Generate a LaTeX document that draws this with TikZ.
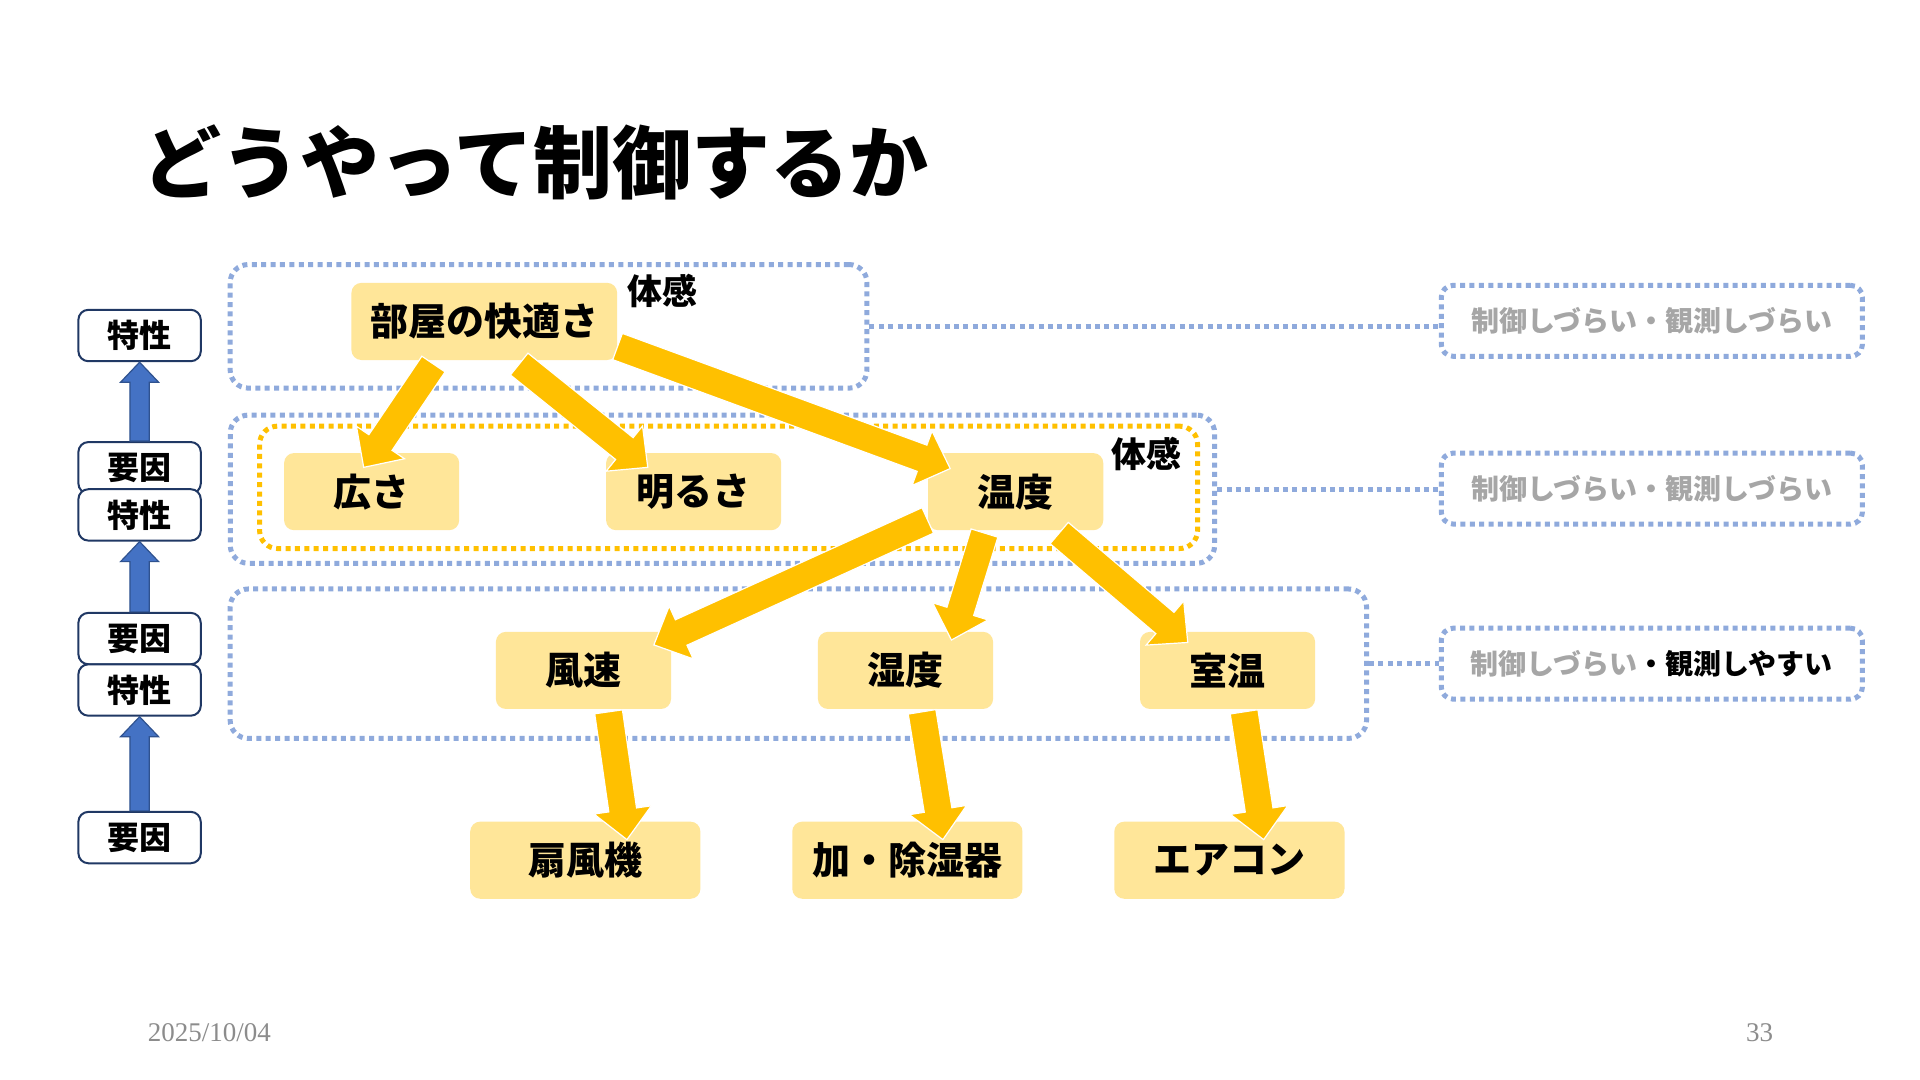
\documentclass[tikz,border=0pt]{standalone}
\usepackage{fontspec}
\setmainfont{Noto Sans CJK JP}
\newfontfamily\numfont{Liberation Serif}
\usetikzlibrary{calc}
\definecolor{nodefill}{HTML}{FFE699}
\definecolor{arrowyellow}{HTML}{FFC000}
\definecolor{dotblue}{HTML}{8FAADC}
\definecolor{dotorange}{HTML}{FFC000}
\definecolor{navy}{HTML}{203864}
\definecolor{arrowblue}{HTML}{4472C4}
\definecolor{arrowblueline}{HTML}{2F528F}
\definecolor{softgray}{HTML}{A6A6A6}
\definecolor{footgray}{HTML}{8C8C8C}
\newcommand\myblock[6]{%
  \path #2 coordinate (ba-s) #3 coordinate (ba-e);
  \path ($(ba-e)!#6!(ba-s)$) coordinate (ba-b);
  \filldraw[#1] ($(ba-s)!#4!90:(ba-e)$) -- ($(ba-b)!#4!90:(ba-e)$) -- ($(ba-b)!#5!90:(ba-e)$) -- (ba-e) -- ($(ba-b)!#5!-90:(ba-e)$) -- ($(ba-b)!#4!-90:(ba-e)$) -- ($(ba-s)!#4!-90:(ba-e)$) -- cycle;
}
\newcommand\yarrow[2]{\myblock{yarr}{#1}{#2}{7pt}{14.5pt}{15pt}}
\newcommand\barrow[2]{\myblock{barr}{#1}{#2}{4.8pt}{9.5pt}{10pt}}
\tikzset{
  yarr/.style={fill=arrowyellow, draw=white, line width=0.6pt, line join=miter},
  barr/.style={fill=arrowblue, draw=arrowblueline, line width=0.6pt, line join=miter},
  dotline/.style={line width=2.5pt, dash pattern=on 2.5pt off 2.2pt},
  grp/.style={draw=dotblue, dotline, rounded corners=9pt, inner sep=0pt},
  ygrp/.style={draw=dotorange, dotline, rounded corners=9pt, inner sep=0pt},
  item/.style={fill=nodefill, rounded corners=5pt, inner sep=0pt, minimum width=87.55pt, minimum height=38.57pt, font=\fontsize{19}{22}\selectfont\bfseries},
  bitem/.style={item, minimum width=115.1pt},
  lbox/.style={draw=navy, fill=white, line width=1pt, rounded corners=5pt, inner sep=0pt, minimum width=61.2pt, minimum height=25.7pt, font=\fontsize{16}{18}\selectfont\bfseries},
  rbox/.style={draw=dotblue, dotline, rounded corners=6pt, inner sep=0pt, minimum width=210.6pt, minimum height=35.5pt, font=\fontsize{14}{16}\selectfont\bfseries},
  tlabel/.style={inner sep=0pt, font=\fontsize{17.5}{20}\selectfont\bfseries},
  foot/.style={inner sep=0pt, text=footgray, font=\numfont\fontsize{13.5}{15}\selectfont},
}
\begin{document}
\begin{tikzpicture}[x=0.61224pt, y=-0.61224pt]
\useasboundingbox (0,0) rectangle (1568,882);
\fill[white] (0,0) rectangle (1568,882);
% title
\node[anchor=west, inner sep=0pt, font=\fontsize{39.5}{44}\selectfont\bfseries] (title) at (116,133) {どうやって制御するか};
% group boxes
\node[grp, minimum width=318.4pt, minimum height=61.8pt] (g1) at (448,266.5) {};
\node[grp, minimum width=492.2pt, minimum height=74.1pt] (g2) at (590,399.5) {};
\node[ygrp, minimum width=469pt, minimum height=61.2pt] (g2y) at (595,398) {};
\node[grp, minimum width=568.2pt, minimum height=74.7pt] (g3) at (652,542) {};
% right boxes
\node[rbox, text=softgray] (r1) at (1349,262) {制御しづらい・観測しづらい};
\node[rbox, text=softgray] (r2) at (1349,399) {制御しづらい・観測しづらい};
\node[rbox] (r3) at (1349,542) {\textcolor{softgray}{制御しづらい}・観測しやすい};
\draw[draw=dotblue, dotline] (g1.east) -- (g1.east -| r1.west);
\draw[draw=dotblue, dotline] (g2.east) -- (g2.east -| r2.west);
\draw[draw=dotblue, dotline] (g3.east) -- (g3.east -| r3.west);
% nodes
\node[item, minimum width=132.86pt] (room) at (395.5,262.5) {部屋の快適さ};
\node[item] (hiro) at (303.5,401.5) {広さ};
\node[item] (akaru) at (566.5,401.5) {明るさ};
\node[item] (ondo) at (829.5,401.5) {温度};
\node[item] (fuu) at (476.5,547.5) {風速};
\node[item] (shitsu) at (739.5,547.5) {湿度};
\node[item] (shitsuon) at (1002.5,547.5) {室温};
\node[bitem] (senpuki) at (478,702.5) {扇風機};
\node[bitem] (kajo) at (741,702.5) {加・除湿器};
\node[bitem] (aircon) at (1004,702.5) {エアコン};
% yellow arrows
\yarrow{($(room.south)+(-41.5,3)$)}{($(hiro.north)+(-6.5,12)$)}
\yarrow{($(room.south)+(28.5,3)$)}{($(akaru.north)+(-37.5,12)$)}
\yarrow{($(room.east)+(0,20.5)$)}{($(ondo.north)+(-53.5,13)$)}
\yarrow{($(ondo.west)+(0,23.5)$)}{($(fuu.north)+(57.5,11)$)}
\yarrow{($(ondo.south)+(-25.5,2)$)}{($(shitsu.north)+(37.5,7)$)}
\yarrow{($(ondo.south)+(35.5,2)$)}{($(shitsuon.north)+(-32.5,9)$)}
\yarrow{($(fuu.south)+(20.5,2)$)}{($(senpuki.north)+(34,15)$)}
\yarrow{($(shitsu.south)+(13.5,2)$)}{($(kajo.north)+(29,15)$)}
\yarrow{($(shitsuon.south)+(13.5,2)$)}{($(aircon.north)+(28,15)$)}
% labels
\node[tlabel] (tai1) at (541,238) {体感};
\node[tlabel] (tai2) at (936,371) {体感};
% left column
\node[lbox] (t1) at (114,274) {特性};
\node[lbox] (y1) at (114,382) {要因};
\node[lbox] (t2) at (114,420.5) {特性};
\node[lbox] (y2) at (114,521.5) {要因};
\node[lbox] (t3) at (114,563.5) {特性};
\node[lbox] (y3) at (114,684) {要因};
\barrow{(y1.north)}{(t1.south)}
\barrow{(y2.north)}{(t2.south)}
\barrow{(y3.north)}{(t3.south)}
% footer
\node[foot] (date) at (171,843) {2025/10/04};
\node[foot] (page) at (1437,843) {33};
\end{tikzpicture}
\end{document}
